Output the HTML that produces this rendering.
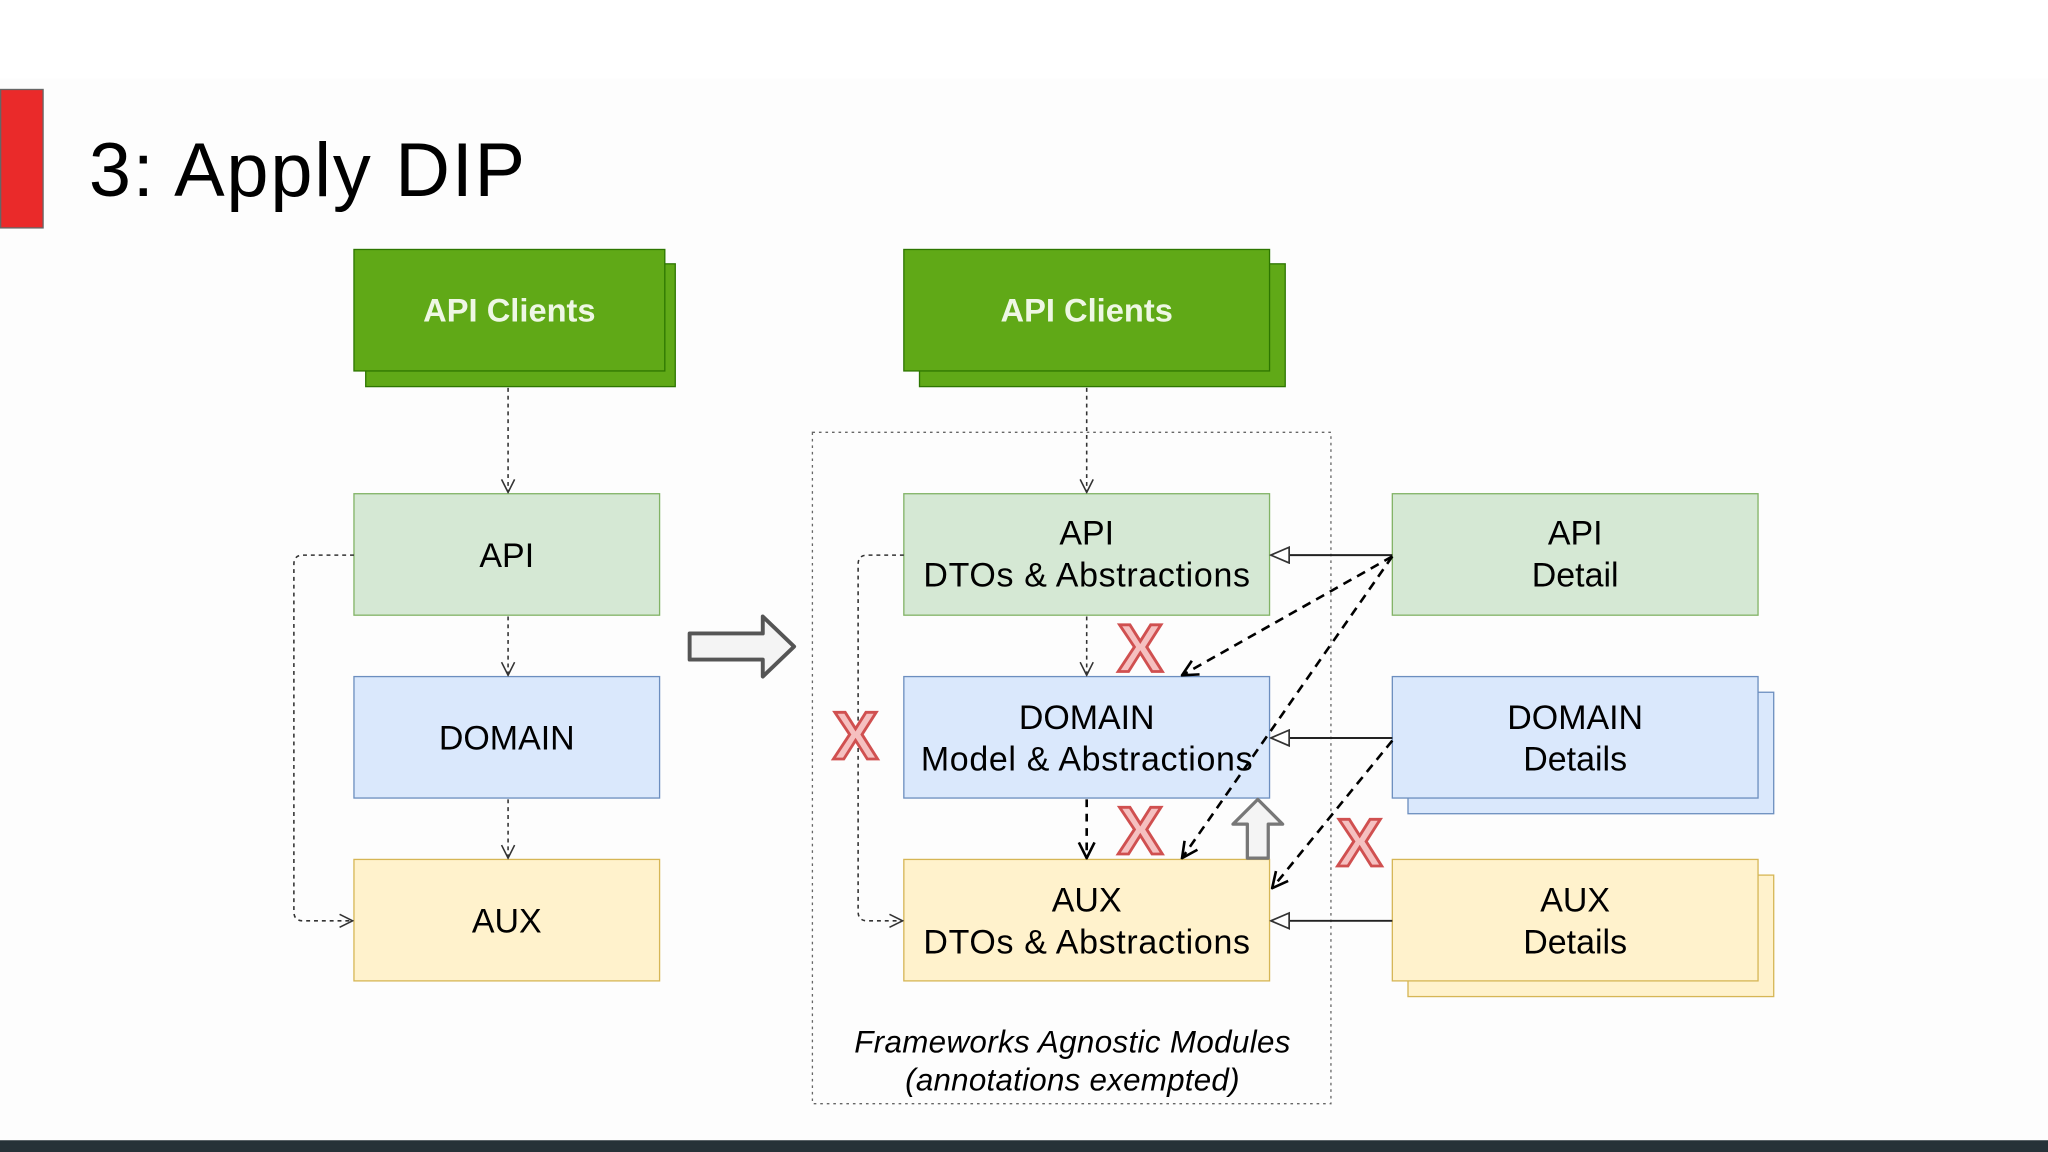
<!DOCTYPE html>
<html><head><meta charset="utf-8"><style>
html,body{margin:0;padding:0;background:#fff;}
svg{display:block;}
text{font-family:"Liberation Sans",sans-serif;}
</style></head><body>
<svg width="2048" height="1152" viewBox="0 0 1568 882" xmlns="http://www.w3.org/2000/svg">
<defs>
<marker id="op" viewBox="0 0 12 12" refX="11" refY="6" markerWidth="12" markerHeight="12" markerUnits="userSpaceOnUse" orient="auto">
<path d="M1,1 L11,6 L1,11" fill="none" stroke="#333" stroke-width="1.2"/></marker>
<marker id="opb" viewBox="0 0 14 14" refX="13" refY="7" markerWidth="14" markerHeight="14" markerUnits="userSpaceOnUse" orient="auto">
<path d="M1,1 L13,7 L1,13" fill="none" stroke="#000" stroke-width="2"/></marker>
<marker id="tri" viewBox="0 0 16 14" refX="15" refY="7" markerWidth="16" markerHeight="14" markerUnits="userSpaceOnUse" orient="auto">
<path d="M1,1 L15,7 L1,13 Z" fill="#fff" stroke="#333" stroke-width="1.3"/></marker>
</defs>
<rect x="0" y="0" width="1568" height="882" fill="#fdfdfd"/>
<rect x="0" y="0" width="1568" height="60" fill="#fff"/>
<rect x="0.5" y="68.5" width="32.5" height="106" fill="#ea2a2a" stroke="#666" stroke-width="1"/>
<text x="68" y="150" font-size="58" fill="#000" textLength="334">3: Apply DIP</text>

<!-- left column -->
<rect x="280" y="202" width="237" height="94" fill="#60a917" stroke="#2d7600"/>
<rect x="271" y="191" width="238" height="93" fill="#60a917" stroke="#2d7600"/>
<text x="390" y="246" font-size="25" font-weight="bold" fill="#eef7e4" text-anchor="middle" textLength="132">API Clients</text>
<rect x="271" y="378" width="234" height="93" fill="#d5e8d4" stroke="#82b366"/>
<text x="388" y="434" font-size="26" text-anchor="middle">API</text>
<rect x="271" y="518" width="234" height="93" fill="#dae8fc" stroke="#6c8ebf"/>
<text x="388" y="574" font-size="26" text-anchor="middle">DOMAIN</text>
<rect x="271" y="658" width="234" height="93" fill="#fff2cc" stroke="#d6b656"/>
<text x="388" y="714" font-size="26" text-anchor="middle">AUX</text>
<g stroke="#333" stroke-width="1.2" stroke-dasharray="3,3" fill="none">
<line x1="389" y1="297" x2="389" y2="377" marker-end="url(#op)"/>
<line x1="389" y1="472" x2="389" y2="517" marker-end="url(#op)"/>
<line x1="389" y1="612" x2="389" y2="657" marker-end="url(#op)"/>
<path d="M271,425 L232,425 Q225,425 225,432 L225,698 Q225,705 232,705 L270,705" marker-end="url(#op)"/>
</g>

<path d="M528,485 L584,485 L584,472 L608,495 L584,518 L584,505 L528,505 Z" fill="#f4f4f4" stroke="#555" stroke-width="3" stroke-linejoin="round"/>

<rect x="622" y="331" width="397" height="514" fill="none" stroke="#666" stroke-width="1" stroke-dasharray="2,3"/>

<rect x="704" y="202" width="280" height="94" fill="#60a917" stroke="#2d7600"/>
<rect x="692" y="191" width="280" height="93" fill="#60a917" stroke="#2d7600"/>
<text x="832" y="246" font-size="25" font-weight="bold" fill="#eef7e4" text-anchor="middle" textLength="132">API Clients</text>
<rect x="692" y="378" width="280" height="93" fill="#d5e8d4" stroke="#82b366"/>
<text x="832" y="417" font-size="26" text-anchor="middle">API</text>
<text x="832" y="449" font-size="26" text-anchor="middle" textLength="250">DTOs &amp; Abstractions</text>
<rect x="692" y="518" width="280" height="93" fill="#dae8fc" stroke="#6c8ebf"/>
<text x="832" y="558" font-size="26" text-anchor="middle">DOMAIN</text>
<text x="832" y="590" font-size="26" text-anchor="middle" textLength="254">Model &amp; Abstractions</text>
<rect x="692" y="658" width="280" height="93" fill="#fff2cc" stroke="#d6b656"/>
<text x="832" y="698" font-size="26" text-anchor="middle">AUX</text>
<text x="832" y="730" font-size="26" text-anchor="middle" textLength="250">DTOs &amp; Abstractions</text>

<rect x="1066" y="378" width="280" height="93" fill="#d5e8d4" stroke="#82b366"/>
<text x="1206" y="417" font-size="26" text-anchor="middle">API</text>
<text x="1206" y="449" font-size="26" text-anchor="middle">Detail</text>
<rect x="1078" y="530" width="280" height="93" fill="#dae8fc" stroke="#6c8ebf"/>
<rect x="1066" y="518" width="280" height="93" fill="#dae8fc" stroke="#6c8ebf"/>
<text x="1206" y="558" font-size="26" text-anchor="middle">DOMAIN</text>
<text x="1206" y="590" font-size="26" text-anchor="middle">Details</text>
<rect x="1078" y="670" width="280" height="93" fill="#fff2cc" stroke="#d6b656"/>
<rect x="1066" y="658" width="280" height="93" fill="#fff2cc" stroke="#d6b656"/>
<text x="1206" y="698" font-size="26" text-anchor="middle">AUX</text>
<text x="1206" y="730" font-size="26" text-anchor="middle">Details</text>

<g stroke="#333" stroke-width="1.2" stroke-dasharray="3,3" fill="none">
<line x1="832" y1="297" x2="832" y2="377" marker-end="url(#op)"/>
<line x1="832" y1="472" x2="832" y2="517" marker-end="url(#op)"/>
<path d="M692,425 L664,425 Q657,425 657,432 L657,698 Q657,705 664,705 L691,705" marker-end="url(#op)"/>
</g>
<line x1="832" y1="612" x2="832" y2="657" stroke="#000" stroke-width="2" stroke-dasharray="6,5" marker-end="url(#opb)"/>
<g stroke="#222" stroke-width="1.5" fill="none">
<line x1="1066" y1="425" x2="973" y2="425" marker-end="url(#tri)"/>
<line x1="1066" y1="565" x2="973" y2="565" marker-end="url(#tri)"/>
<line x1="1066" y1="705" x2="973" y2="705" marker-end="url(#tri)"/>
</g>
<g stroke="#000" stroke-width="2" stroke-dasharray="7,5" fill="none">
<line x1="1066" y1="426" x2="905" y2="517" marker-end="url(#opb)"/>
<line x1="1066" y1="426" x2="905" y2="657" marker-end="url(#opb)"/>
<line x1="1066" y1="567" x2="974" y2="680" marker-end="url(#opb)"/>
</g>

<path d="M955,657 L955,631 L944,631 L963,612 L982,631 L971,631 L971,657 Z" fill="#f4f4f4" stroke="#777" stroke-width="2.5" stroke-linejoin="round"/>

<g font-family="Liberation Sans,sans-serif" font-weight="bold" font-size="52" fill="#f5c0c0" stroke="#d05050" stroke-width="2.2" text-anchor="middle">
<text x="873" y="514">X</text>
<text x="873" y="654">X</text>
<text x="655" y="581">X</text>
<text x="1041" y="663">X</text>
</g>

<text x="821" y="806" font-size="24" font-style="italic" text-anchor="middle" textLength="334">Frameworks Agnostic Modules</text>
<text x="821" y="835" font-size="24" font-style="italic" text-anchor="middle" textLength="256">(annotations exempted)</text>

<rect x="0" y="873" width="1568" height="9" fill="#263238"/>
</svg>
</body></html>
